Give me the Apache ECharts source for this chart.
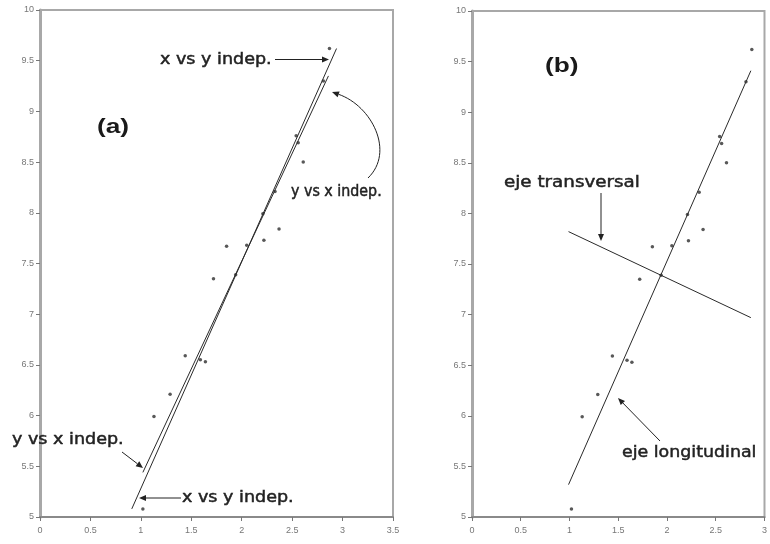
<!DOCTYPE html>
<html><head><meta charset="utf-8">
<script src="https://cdn.jsdelivr.net/npm/echarts@6/dist/echarts.min.js"></script>
<style>html,body{margin:0;padding:0;background:#fff}#c{width:770px;height:544px}</style>
</head><body><div id="c"></div><script>
// ---- data ----
const ptX = [1.02, 1.13, 1.29, 1.44, 1.59, 1.64, 1.72, 1.85, 1.94, 2.05, 2.22, 2.21, 2.37, 2.33, 2.54, 2.56, 2.61, 2.81, 2.87];
const ptY = [5.08, 5.99, 6.21, 6.59, 6.55, 6.53, 7.35, 7.67, 7.39, 7.68, 7.73, 7.99, 7.84, 8.21, 8.76, 8.69, 8.50, 9.30, 9.62];
// panel (a) regression lines
const xVsYLineX = [0.91, 2.94];
const xVsYLineY = [5.08, 9.62];
const yVsXLineX = [1.02, 2.86];
const yVsXLineY = [5.44, 9.35];
// panel (b) axes
const longAxisX = [0.99, 2.86];
const longAxisY = [5.32, 9.41];
const transAxisX = [0.99, 2.86];
const transAxisY = [7.82, 6.97];
// axis ranges
const xRangeA = [0, 3.5];
const xRangeB = [0, 3];
const yRange = [5, 10];
const tickStep = 0.5;

const zip = (a, b) => a.map((v, i) => [v, b[i]]);
const pts = zip(ptX, ptY);

const chart = echarts.init(document.getElementById('c'), null, {renderer: 'canvas'});

function xAxisCfg(gi, r) {
  return {
    type: 'value', gridIndex: gi, min: r[0], max: r[1], interval: tickStep,
    axisLine: {show: true, onZero: false, lineStyle: {color: '#8a8a8a', width: 2}},
    axisTick: {show: true, length: 4, lineStyle: {color: '#777', width: 1}},
    axisLabel: {fontSize: 9, color: '#777', margin: 9, fontFamily: 'Liberation Sans'},
    splitLine: {show: false}
  };
}
function yAxisCfg(gi) {
  return {
    type: 'value', gridIndex: gi, min: yRange[0], max: yRange[1], interval: tickStep,
    axisLine: {show: true, onZero: false, lineStyle: {color: '#a8a8a8', width: 3}},
    axisTick: {show: true, length: 4, lineStyle: {color: '#777', width: 1}},
    axisLabel: {fontSize: 9, color: '#777', margin: 6, fontFamily: 'Liberation Sans'},
    splitLine: {show: false}
  };
}
const lineStyle = {color: '#2a2a2a', width: 1};
function lineSeries(gi, xs, ys) {
  return {type: 'line', xAxisIndex: gi, yAxisIndex: gi, data: zip(xs, ys), showSymbol: false,
    symbol: 'none', lineStyle: lineStyle, silent: true, z: 3, animation: false};
}
function scatterSeries(gi) {
  return {type: 'scatter', xAxisIndex: gi, yAxisIndex: gi, data: pts, symbolSize: 3.5,
    itemStyle: {color: '#2e2e2e'}, z: 4, animation: false};
}

// ---- annotation helpers ----
const ink = '#222';
function arrow(x1, y1, x2, y2) {
  const a = Math.atan2(y2 - y1, x2 - x1), L = 7, W = 3;
  const bx = x2 - L * Math.cos(a), by = y2 - L * Math.sin(a);
  const px = -Math.sin(a) * W, py = Math.cos(a) * W;
  return [
    {type: 'line', shape: {x1: x1, y1: y1, x2: bx, y2: by}, style: {stroke: ink, lineWidth: 1}, z: 10},
    {type: 'polygon', shape: {points: [[x2, y2], [bx + px, by + py], [bx - px, by - py]]}, style: {fill: ink}, z: 10}
  ];
}
function curvedArrow(x1, y1, c1x, c1y, c2x, c2y, x2, y2) {
  const a = Math.atan2(y2 - c2y, x2 - c2x), L = 7, W = 3;
  const bx = x2 - L * Math.cos(a), by = y2 - L * Math.sin(a);
  const px = -Math.sin(a) * W, py = Math.cos(a) * W;
  return [
    {type: 'bezierCurve', shape: {x1: x1, y1: y1, cpx1: c1x, cpy1: c1y, cpx2: c2x, cpy2: c2y, x2: bx, y2: by},
      style: {stroke: ink, lineWidth: 1, fill: null}, z: 10},
    {type: 'polygon', shape: {points: [[x2, y2], [bx + px, by + py], [bx - px, by - py]]}, style: {fill: ink}, z: 10}
  ];
}
function label(text, x, y, opts) {
  opts = opts || {};
  return {type: 'text', x: x, y: y, scaleX: opts.sx || 1.17, z: 11,
    style: {text: text, font: (opts.font || '15px "DejaVu Sans"'), fill: opts.fill || ink,
      stroke: opts.fill || ink, lineWidth: opts.lw == null ? 0.45 : opts.lw,
      textAlign: 'left', textVerticalAlign: 'middle'}};
}

const graphics = [].concat(
  [label('(a)', 97, 127, {font: 'bold 21px "Liberation Sans"', sx: 1.25, fill: '#1a1a1a', lw: 0})],
  [label('x vs y indep.', 160, 60)], arrow(275, 59.5, 329, 59.5),
  [label('y vs x indep.', 291, 192, {sx: 0.95})], curvedArrow(368, 178, 395, 152, 372, 106, 332, 92),
  [label('y vs x indep.', 12, 440)], arrow(122, 452, 143, 468),
  [label('x vs y indep.', 182, 498)], arrow(181, 498, 139, 498),
  [label('(b)', 545, 66, {font: 'bold 21px "Liberation Sans"', sx: 1.25, fill: '#1a1a1a', lw: 0})],
  [label('eje transversal', 504, 183, {sx: 1.22})], arrow(601, 193, 601, 241),
  [label('eje longitudinal', 622, 453, {sx: 1.16})], arrow(660, 441, 618, 398)
);

chart.setOption({
  animation: false,
  backgroundColor: '#fff',
  grid: [
    {left: 40, top: 10, width: 353, height: 507, show: true, borderColor: '#a8a8a8', borderWidth: 2, backgroundColor: 'transparent'},
    {left: 472, top: 11, width: 302, height: 506, show: true, borderColor: '#a8a8a8', borderWidth: 2, backgroundColor: 'transparent'}
  ],
  xAxis: [xAxisCfg(0, xRangeA), xAxisCfg(1, xRangeB)],
  yAxis: [yAxisCfg(0), yAxisCfg(1)],
  series: [
    scatterSeries(0),
    lineSeries(0, xVsYLineX, xVsYLineY),
    lineSeries(0, yVsXLineX, yVsXLineY),
    scatterSeries(1),
    lineSeries(1, longAxisX, longAxisY),
    lineSeries(1, transAxisX, transAxisY)
  ],
  graphic: graphics
});
</script></body></html>
